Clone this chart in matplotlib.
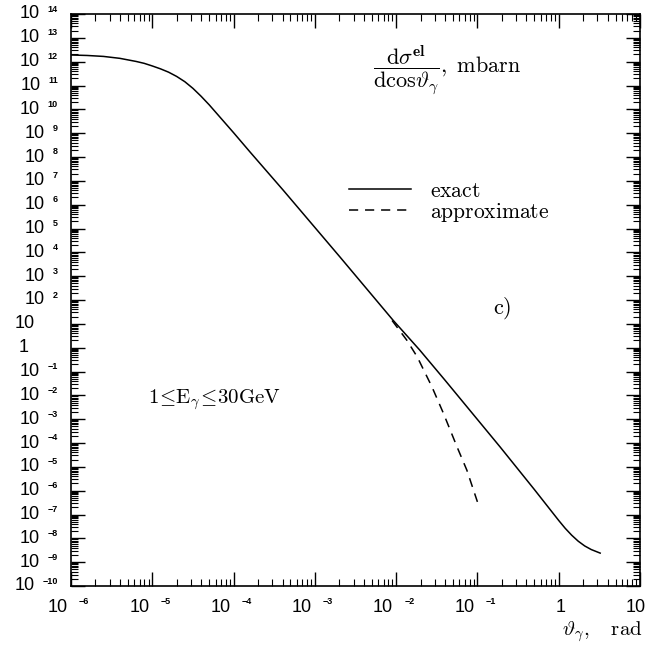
import numpy as np
import matplotlib
matplotlib.use("Agg")
import matplotlib.pyplot as plt
from matplotlib.ticker import LogLocator, NullFormatter

# ---- data (log10 values) ----
log_theta_exact = [-6.0, -5.8, -5.6, -5.4, -5.2, -5.1, -5.0, -4.9, -4.8, -4.7, -4.6, -4.5,
                   -4.4, -4.3, -4.2, -4.1, -4.0, -3.8, -3.39, -2.69, -2.04, -1.71, -1.40,
                   -0.72, -0.30, 0.0, 0.08, 0.16, 0.24, 0.32, 0.40, 0.51]
log_dsig_exact = [12.28, 12.26, 12.22, 12.14, 12.01, 11.93, 11.82, 11.70, 11.56, 11.38,
                  11.16, 10.88, 10.55, 10.19, 9.80, 9.41, 9.02, 8.22, 6.61, 3.80, 1.16,
                  -0.10, -1.36, -4.17, -5.95, -7.25, -7.58, -7.87, -8.12, -8.32, -8.47,
                  -8.62]

log_theta_approx = [-2.05, -1.87, -1.74, -1.56, -1.42, -1.25, -1.13, -1.0]
log_dsig_approx = [1.14, 0.32, -0.39, -1.64, -2.74, -4.17, -5.14, -6.47]

x_exps = [-6, -5, -4, -3, -2, -1, 0, 1]
y_exps = list(range(14, -11, -1))

theta_exact = 10.0 ** np.array(log_theta_exact)
dsig_exact = 10.0 ** np.array(log_dsig_exact)
theta_approx = 10.0 ** np.array(log_theta_approx)
dsig_approx = 10.0 ** np.array(log_dsig_approx)

plt.rcParams["mathtext.fontset"] = "cm"
TICKFONT = "Liberation Sans"

fig = plt.figure(figsize=(6.5, 6.46), dpi=100)
ax = fig.add_axes([71 / 650, 1 - 586 / 646, 569 / 650, 572 / 646])
ax.set_xscale("log")
ax.set_yscale("log")
ax.set_xlim(1e-6, 10)
ax.set_ylim(1e-10, 1e14)

ax.plot(theta_exact, dsig_exact, color="black", lw=1.1, label=r"$\mathrm{exact}$")
ax.plot(theta_approx, dsig_approx, color="black", lw=1.1, ls=(0, (6, 4.5)),
        label=r"$\mathrm{approximate}$")

for axis, n in ((ax.xaxis, 30), (ax.yaxis, 60)):
    axis.set_major_locator(LogLocator(base=10, subs=(1.0,), numticks=n))
    axis.set_minor_locator(LogLocator(base=10, subs=np.arange(2, 10), numticks=n))
    axis.set_minor_formatter(NullFormatter())
ax.tick_params(which="both", direction="in", top=True, right=True,
               labelbottom=False, labelleft=False)
ax.tick_params(which="major", length=10, width=1.0)
ax.tick_params(which="minor", length=5, width=0.8)
for s in ax.spines.values():
    s.set_linewidth(1.2)

# ---- tick labels: "10" with a small raised exponent ----
fig.canvas.draw()
renderer = fig.canvas.get_renderer()

for e in y_exps:
    yv = 10.0 ** e
    if e == 0:
        ax.annotate("1", xy=(0, yv), xycoords=("axes fraction", "data"),
                    xytext=(-47, 0), textcoords="offset pixels", ha="center", va="center",
                    fontsize=13, family=TICKFONT)
        continue
    if e == 1:
        ax.annotate("10", xy=(0, yv), xycoords=("axes fraction", "data"),
                    xytext=(-36, 0), textcoords="offset pixels", ha="right", va="center",
                    fontsize=13, family=TICKFONT)
        continue
    t = ax.annotate(str(e).replace("-", "\u2212"), xy=(0, yv), xycoords=("axes fraction", "data"),
                    xytext=(-13, 5), textcoords="offset pixels", ha="right", va="center",
                    fontsize=6.5, fontweight="bold", family=TICKFONT)
    w = t.get_window_extent(renderer).width
    ax.annotate("10", xy=(0, yv), xycoords=("axes fraction", "data"),
                xytext=(-13 - w - 8, 0), textcoords="offset pixels", ha="right", va="center",
                fontsize=13, family=TICKFONT)

for e in x_exps:
    xv = 10.0 ** e
    if e in (0, 1):
        ax.annotate("1" if e == 0 else "10", xy=(xv, 0), xycoords=("data", "axes fraction"),
                    xytext=(2 if e == 0 else -4, -21), textcoords="offset pixels",
                    ha="center", va="center", fontsize=13, family=TICKFONT)
        continue
    ax.annotate("10", xy=(xv, 0), xycoords=("data", "axes fraction"),
                xytext=(-3, -21), textcoords="offset pixels", ha="right", va="center",
                fontsize=13, family=TICKFONT)
    ax.annotate(str(e).replace("-", "\u2212"), xy=(xv, 0), xycoords=("data", "axes fraction"),
                xytext=(8, -15), textcoords="offset pixels", ha="left", va="center",
                fontsize=6.5, fontweight="bold", family=TICKFONT)

# ---- annotations ----
ax.text(0.531, 0.902,
        r"$\dfrac{\mathrm{d}\sigma^{\mathbf{el}}}{\mathrm{dcos}\vartheta_{\gamma}},\ \mathrm{mbarn}$",
        transform=ax.transAxes, ha="left", va="center", fontsize=16)
ax.text(0.135, 0.325, r"$1\!\leq\! \mathrm{E}_{\gamma}\!\leq\! 30\mathrm{GeV}$",
        transform=ax.transAxes, ha="left", va="center", fontsize=15)
ax.text(0.742, 0.486, r"$\mathrm{c)}$", transform=ax.transAxes, ha="left", va="center",
        fontsize=16)

ax.legend(loc="center left", bbox_to_anchor=(0.488, 0.671), frameon=False,
          handlelength=2.9, handletextpad=0.9, labelspacing=0.0, fontsize=15.5,
          borderpad=0, borderaxespad=0)

fig.text(643 / 650, 1 - 632 / 646, r"$\vartheta_{\gamma},\quad\mathrm{rad}$",
         ha="right", va="center", fontsize=15)

fig.savefig("out.png", dpi=100)
